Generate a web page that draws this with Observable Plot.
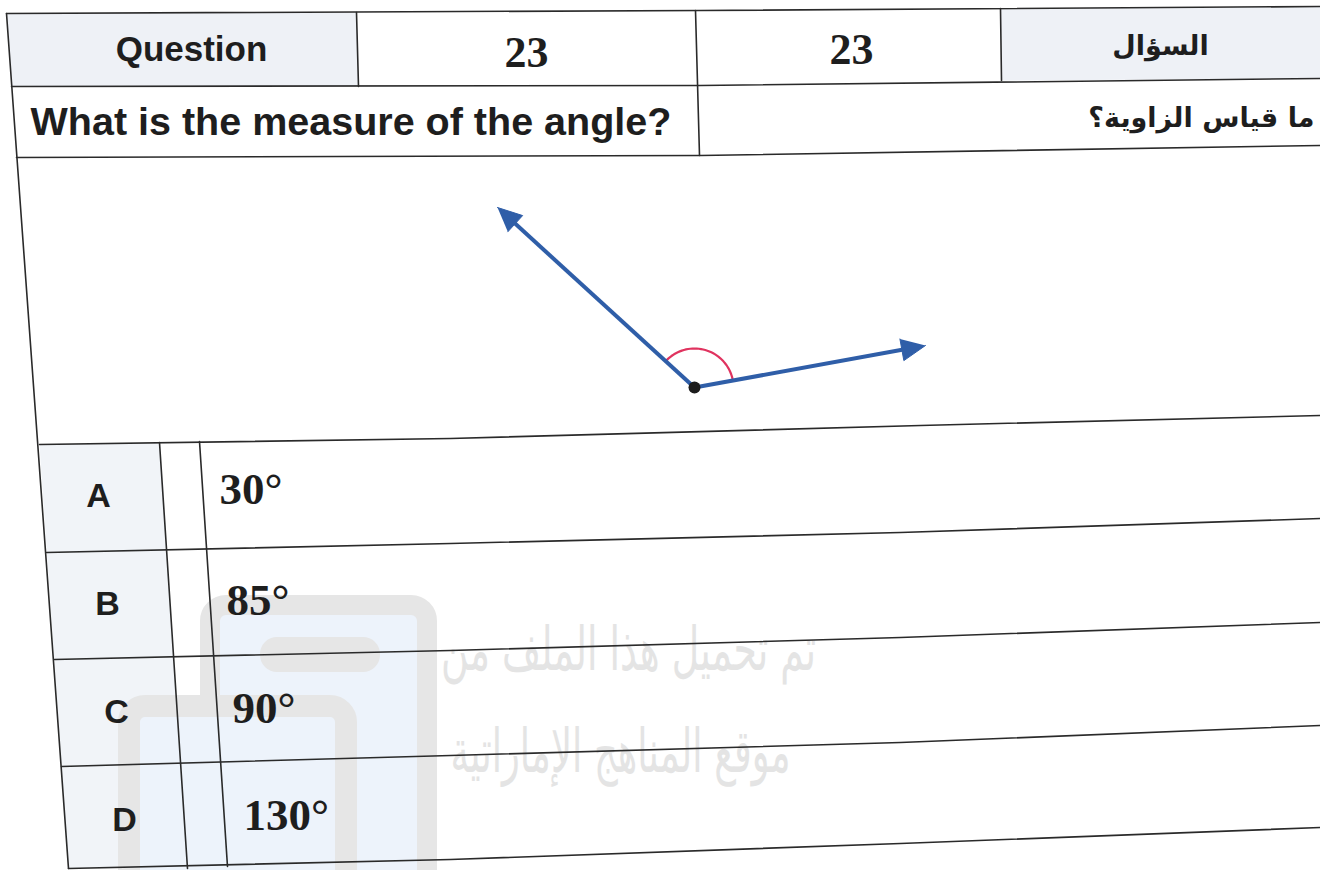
<!DOCTYPE html>
<html><head><meta charset="utf-8">
<script src="https://cdn.jsdelivr.net/npm/d3@7"></script>
<script src="https://cdn.jsdelivr.net/npm/@observablehq/plot@0.6"></script>
<style>html,body{margin:0;padding:0;background:#fff;overflow:hidden}#chart svg{display:block}</style>
</head><body><div id="chart"></div>
<script>
// ---------- content (data) ----------
const headerLabels = ["Question", "23", "23", "السؤال"];
const questionEn = "What is the measure of the angle?";
const questionAr = "ما قياس الزاوية؟";
const optionLetters = ["A", "B", "C", "D"];
const optionValues = ["30°", "85°", "90°", "130°"];
const watermarkLines = ["تم تحميل هذا الملف من", "موقع المناهج الإماراتية"];
const rayNames = ["left ray", "right ray"];

// ---------- layout (pixel geometry of the scanned sheet) ----------
const W = 1320, H = 870;
const hRules = [
  [[6,13],[700,10],[1320,6]],
  [[11,86],[700,85],[1320,78]],
  [[16,157],[700,155],[1320,145]],
  [[39,444],[450,438],[920,425],[1320,415]],
  [[46,552],[450,543],[900,532],[1320,518]],
  [[54,659],[450,650],[900,637],[1320,622]],
  [[61,766],[450,755],[900,742],[1320,725]],
  [[68,868],[450,859],[900,843],[1320,827]]
];
const vRules = [
  [[6,13],[68,868]],
  [[356,12],[358,86]],
  [[695,10],[699,155]],
  [[1000,8],[1001,80]],
  [[159,442],[187,868]],
  [[199,441],[227,866]]
];
const headerShade = [
  [[6,13],[356,12],[358,86],[11,86]],
  [[1000,8],[1320,6],[1320,78],[1001,80]]
];
const letterShade = [[[39,444],[159,442],[187,868],[68,868]]];
const headerPos = [{x:191,y:49},{x:526,y:52},{x:851,y:49},{x:1160,y:46}];
const letterPos = [{x:98,y:496},{x:107,y:604},{x:116,y:712},{x:124,y:820}];
const valuePos = [{x:219,y:489},{x:226,y:600},{x:232,y:708},{x:243,y:815}];
const watermarkPos = [{x:628,y:650,len:375},{x:620,y:752,len:340}];
const vertex = {x:694, y:387};
const rayTips = [{x:497,y:207},{x:925,y:345}];
const arcR = 39;
const headLen = 24, headHalf = 11;

// ---------- build tables ----------
const toPts = (polys, prefix) => polys.flatMap((p, i) => p.map(([x, y]) => ({x, y, id: prefix + i})));
const headerText = headerLabels.map((t, i) => ({text: t, kind: i === 0 ? "en" : i === 3 ? "ar" : "num", ...headerPos[i]}));
const letterText = optionLetters.map((t, i) => ({text: t, ...letterPos[i]}));
const valueText = optionValues.map((t, i) => ({text: t, ...valuePos[i]}));
const wmText = watermarkLines.map((t, i) => ({text: t, ...watermarkPos[i]}));

const unit = t => {
  const dx = t.x - vertex.x, dy = t.y - vertex.y, L = Math.hypot(dx, dy);
  return [dx / L, dy / L];
};
const rays = rayTips.flatMap((t, i) => {
  const [ux, uy] = unit(t);
  return [{x: vertex.x, y: vertex.y, id: rayNames[i]}, {x: t.x - ux * headLen * 0.7, y: t.y - uy * headLen * 0.7, id: rayNames[i]}];
});
const heads = rayTips.flatMap((t, i) => {
  const [ux, uy] = unit(t);
  const bx = t.x - ux * headLen, by = t.y - uy * headLen;
  return [
    {x: t.x, y: t.y, id: rayNames[i]},
    {x: bx - uy * headHalf, y: by + ux * headHalf, id: rayNames[i]},
    {x: bx + uy * headHalf, y: by - ux * headHalf, id: rayNames[i]}
  ];
});
const a0 = Math.atan2(rayTips[0].y - vertex.y, rayTips[0].x - vertex.x);
const a1 = Math.atan2(rayTips[1].y - vertex.y, rayTips[1].x - vertex.x);
const arc = d3.range(0, 41).map(k => {
  const a = a0 + (a1 - a0) * k / 40;
  return {x: vertex.x + arcR * Math.cos(a), y: vertex.y + arcR * Math.sin(a)};
});

const wmBlue = "#edf3fb", wmGray = "#e6e6e6", ink = "#1e1e1e";
const SANS = "Liberation Sans, Arial, sans-serif";
const SERIF = "Liberation Serif, serif";
const ARAB = "DejaVu Sans, sans-serif";

const plot = Plot.plot({
  width: W, height: H, margin: 0,
  x: {domain: [0, W], range: [0, W], axis: null},
  y: {domain: [0, H], range: [0, H], axis: null},
  style: {background: "#ffffff", overflow: "hidden"},
  marks: [
    Plot.line(toPts(headerShade, "h"), {x: "x", y: "y", z: "id", fill: "#eef1f6", stroke: "none"}),
    Plot.line(toPts(letterShade, "l"), {x: "x", y: "y", z: "id", fill: "#f1f4f8", stroke: "none"}),
    // watermark logo
    Plot.rect([{x1: 210, x2: 427, y1: 605, y2: 900}], {x1: "x1", x2: "x2", y1: "y1", y2: "y2", rx: 16, fill: wmBlue, stroke: wmGray, strokeWidth: 20}),
    Plot.rect([{x1: 260, x2: 380, y1: 637, y2: 672}], {x1: "x1", x2: "x2", y1: "y1", y2: "y2", rx: 17, fill: wmGray}),
    Plot.rect([{x1: 129, x2: 346, y1: 706, y2: 900}], {x1: "x1", x2: "x2", y1: "y1", y2: "y2", rx: 16, fill: wmBlue, stroke: wmGray, strokeWidth: 22}),
    Plot.text(wmText, {x: "x", y: "y", text: "text", fontSize: 60, fontFamily: ARAB, fill: "#e4e4e4", textAnchor: "middle", lineAnchor: "middle"}),
    // table rules
    Plot.line(toPts(hRules, "r"), {x: "x", y: "y", z: "id", stroke: "#2a2a2a", strokeWidth: 1.6}),
    Plot.line(toPts(vRules, "v"), {x: "x", y: "y", z: "id", stroke: "#2a2a2a", strokeWidth: 1.6}),
    // header texts
    Plot.text(headerText.filter(d => d.kind === "en"), {x: "x", y: "y", text: "text", fontSize: 35, fontWeight: "bold", fontFamily: SANS, fill: ink, textAnchor: "middle", lineAnchor: "middle"}),
    Plot.text(headerText.filter(d => d.kind === "num"), {x: "x", y: "y", text: "text", fontSize: 44, fontWeight: "bold", fontFamily: SERIF, fill: ink, textAnchor: "middle", lineAnchor: "middle"}),
    Plot.text(headerText.filter(d => d.kind === "ar"), {x: "x", y: "y", text: "text", fontSize: 27, fontWeight: "bold", fontFamily: ARAB, fill: ink, textAnchor: "middle", lineAnchor: "middle"}),
    // question
    Plot.text([questionEn], {x: 30, y: 122, text: d => d, fontSize: 39.5, fontWeight: "bold", fontFamily: SANS, fill: ink, textAnchor: "start", lineAnchor: "middle"}),
    Plot.text([questionAr + "\u200F"], {x: 1314, y: 118, text: d => d, fontSize: 27, fontWeight: "bold", fontFamily: ARAB, fill: ink, textAnchor: "end", lineAnchor: "middle"}),
    // options
    Plot.text(letterText, {x: "x", y: "y", text: "text", fontSize: 34, fontWeight: "bold", fontFamily: SANS, fill: ink, textAnchor: "middle", lineAnchor: "middle"}),
    Plot.text(valueText, {x: "x", y: "y", text: "text", fontSize: 45, fontWeight: "bold", fontFamily: SERIF, fill: ink, textAnchor: "start", lineAnchor: "middle"}),
    // angle figure
    Plot.line(arc, {x: "x", y: "y", stroke: "#e0335f", strokeWidth: 2.2}),
    Plot.line(rays, {x: "x", y: "y", z: "id", stroke: "#2f5ea8", strokeWidth: 4, strokeLinecap: "butt"}),
    Plot.line(heads, {x: "x", y: "y", z: "id", fill: "#2f5ea8", stroke: "#2f5ea8", strokeWidth: 1}),
    Plot.dot([vertex], {x: "x", y: "y", r: 6, fill: "#1c1c1c", stroke: "none"})
  ]
});
document.getElementById("chart").appendChild(plot);
// condense the watermark lines to their scanned width
plot.querySelectorAll("text").forEach(t => {
  const i = watermarkLines.indexOf(t.textContent);
  if (i >= 0) {
    t.setAttribute("textLength", watermarkPos[i].len);
    t.setAttribute("lengthAdjust", "spacingAndGlyphs");
  }
});
</script>
</body></html>
